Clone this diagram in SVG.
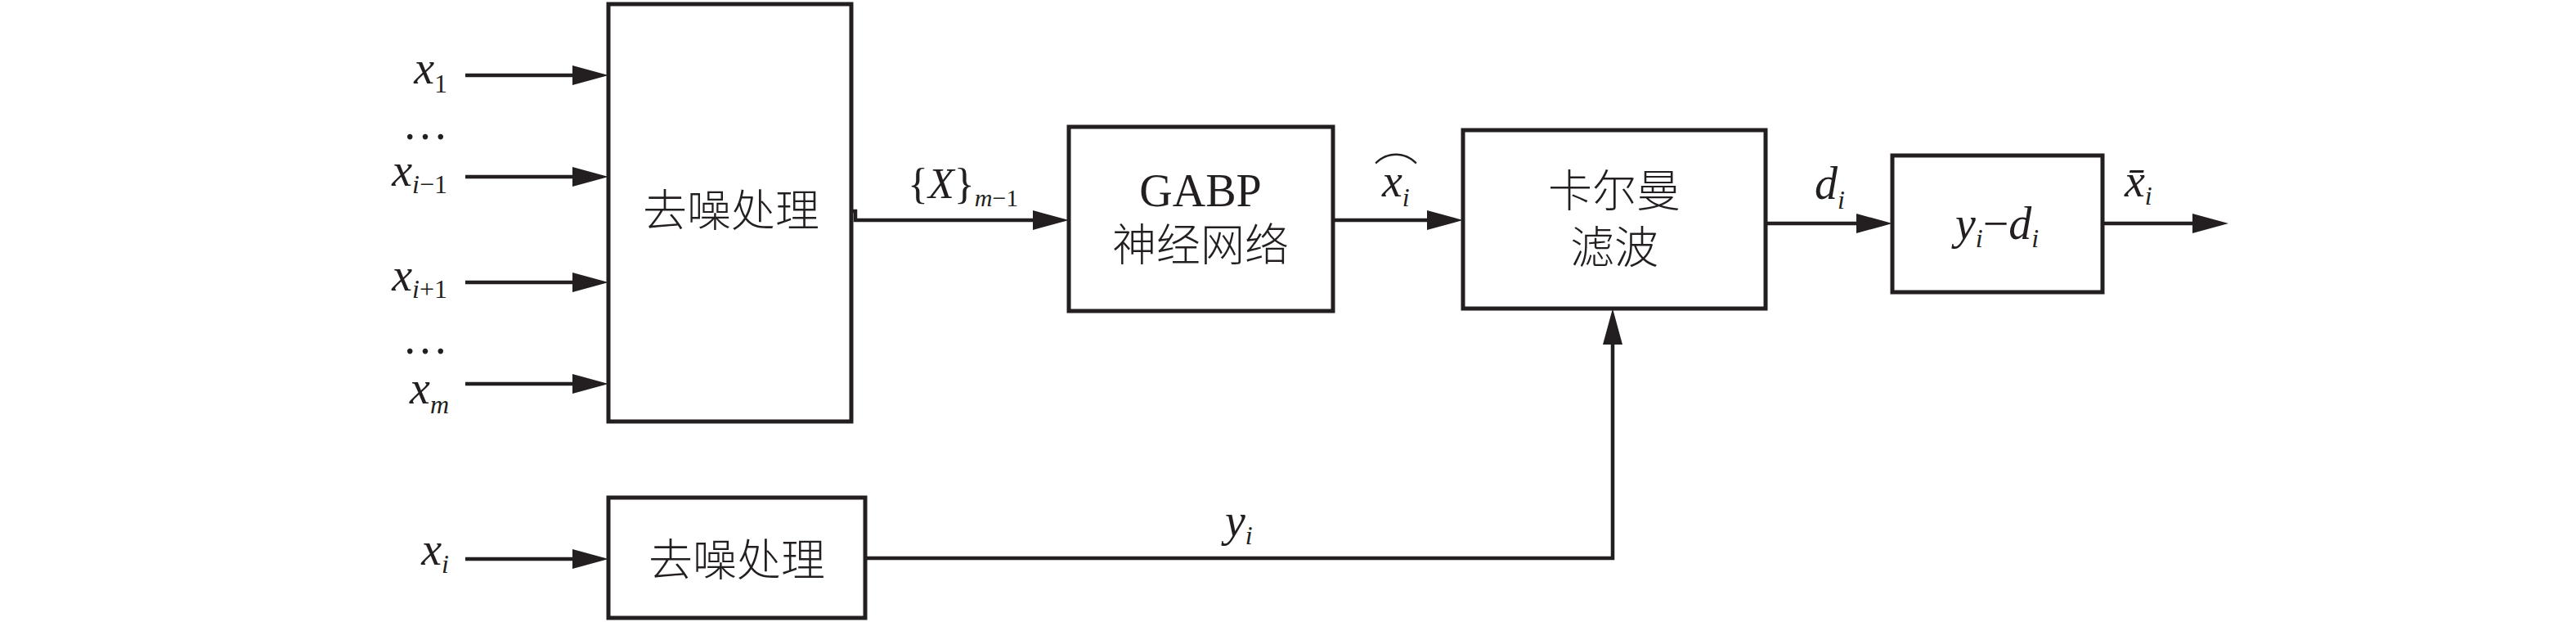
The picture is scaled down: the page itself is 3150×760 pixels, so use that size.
<svg xmlns="http://www.w3.org/2000/svg" width="3150" height="760" viewBox="0 0 3150 760">
<style>
.box{fill:#ffffff;stroke:#231f20;stroke-width:5}
.ln{fill:none;stroke:#231f20;stroke-width:4.5;marker-end:url(#ah)}
.cn{font-family:"Noto Sans CJK SC","Noto Sans CJK TC",sans-serif;font-weight:300;font-size:54px;fill:#231f20;text-anchor:middle}
.lat{font-family:"Liberation Serif","Times New Roman",serif;fill:#231f20}
.it{font-style:italic}
.m{font-size:56px}
.s{font-size:32px}
</style>
<defs>
<marker id="ah" markerUnits="userSpaceOnUse" markerWidth="46" markerHeight="26" refX="24" refY="12" orient="auto">
<path d="M0,0 L44,12 L0,24 Z" fill="#231f20"/>
</marker>
</defs>
<rect width="3150" height="760" fill="#ffffff"/>
<g id="connectors">
<path class="ln" d="M569,92 H724"/>
<path class="ln" d="M569,216 H724"/>
<path class="ln" d="M569,345 H724"/>
<path class="ln" d="M569,469 H724"/>
<path class="ln" d="M569,683 H724"/>
<path class="ln" d="M1041,258 H1046 V269 H1287"/>
<path class="ln" d="M1630,269 H1769"/>
<path class="ln" d="M2159,273 H2294"/>
<path class="ln" d="M2570,273 H2705"/>
<path class="ln" d="M1058,682 H1972 V397"/>
</g>
<g id="inputs">
<text class="lat m" x="547" y="102" text-anchor="end"><tspan class="it">x</tspan><tspan class="s" dy="11">1</tspan></text>
<text class="lat m" x="520" y="170" text-anchor="middle">…</text>
<text class="lat m" x="547" y="227" text-anchor="end"><tspan class="it">x</tspan><tspan class="s it" dy="9">i</tspan><tspan class="s">−1</tspan></text>
<text class="lat m" x="547" y="355" text-anchor="end"><tspan class="it">x</tspan><tspan class="s it" dy="9">i</tspan><tspan class="s">+1</tspan></text>
<text class="lat m" x="520" y="432" text-anchor="middle">…</text>
<text class="lat m" x="549" y="493" text-anchor="end"><tspan class="it">x</tspan><tspan class="s it" dy="12">m</tspan></text>
<text class="lat m" x="549" y="690" text-anchor="end"><tspan class="it">x</tspan><tspan class="s it" dy="10">i</tspan></text>
</g>
<g id="denoise1">
<rect class="box" x="744" y="5" width="297" height="510"/>
<text class="cn" x="894" y="277">去噪处理</text>
</g>
<g id="denoise2">
<rect class="box" x="744" y="608" width="314" height="147"/>
<text class="cn" x="901" y="704">去噪处理</text>
</g>
<g id="gabp">
<rect class="box" x="1307" y="155" width="323" height="225"/>
<text class="cn" x="1468" y="252"><tspan class="lat" font-size="56" font-weight="normal">GABP</tspan><tspan x="1468" y="319">神经网络</tspan></text>
</g>
<g id="kalman">
<rect class="box" x="1789" y="159" width="370" height="218"/>
<text class="cn" x="1974" y="253">卡尔曼<tspan x="1974" y="322">滤波</tspan></text>
</g>
<g id="subtract">
<rect class="box" x="2314" y="190" width="257" height="167"/>
<text class="lat m" x="2442" y="292" text-anchor="middle"><tspan class="it">y</tspan><tspan class="s it" dy="10">i</tspan><tspan dy="-10">−</tspan><tspan class="it">d</tspan><tspan class="s it" dy="10">i</tspan></text>
</g>
<g id="labels">
<text class="lat" font-size="52" x="1110" y="242">{<tspan class="it">X</tspan>}<tspan font-size="30" dy="10"><tspan class="it">m</tspan>−1</tspan></text>
<text class="lat m" x="1690" y="240"><tspan class="it">x</tspan><tspan class="s it" dy="12">i</tspan></text>
<text class="cn" x="1707" y="234" font-size="24">⌒</text>
<text class="lat m" x="2219" y="243"><tspan class="it">d</tspan><tspan class="s it" dy="12">i</tspan></text>
<text class="lat m" x="2598" y="240"><tspan class="it">x̄</tspan><tspan class="s it" dy="10">i</tspan></text>
<text class="lat m" x="1498" y="655"><tspan class="it">y</tspan><tspan class="s it" dy="10">i</tspan></text>
</g>
</svg>
